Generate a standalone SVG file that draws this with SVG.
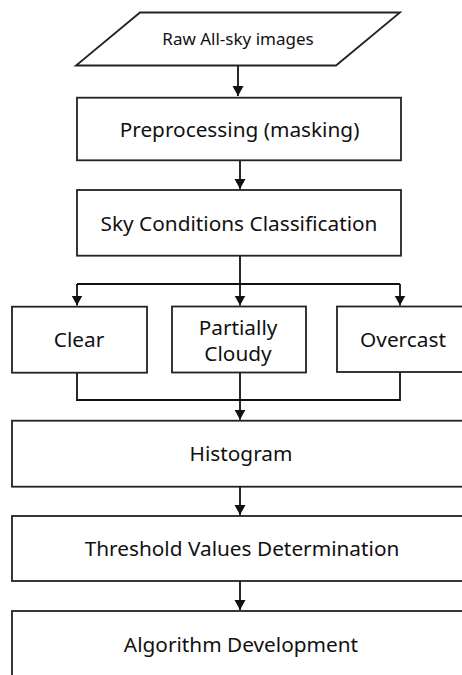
<svg xmlns="http://www.w3.org/2000/svg" width="462" height="675" viewBox="0 0 462 675">
<defs>
<marker id="ah" markerUnits="userSpaceOnUse" markerWidth="12" markerHeight="12" viewBox="0 0 12 12" refX="10" refY="6" orient="auto">
<path d="M0,0.5 L10,6 L0,11.5 Z" fill="#111"/>
</marker>
<style>
.b{fill:#fff;stroke:#222;stroke-width:1.8}
.c{fill:none;stroke:#111;stroke-width:1.8}
.t{font-family:"Noto Sans","Open Sans",sans-serif;font-size:20.8px;fill:#111;text-anchor:middle}
.s{font-size:17px}
</style>
</defs>
<rect width="462" height="675" fill="#fff"/>
<g id="connectors">
<path class="c" d="M238,65.5 V96" marker-end="url(#ah)"/>
<path class="c" d="M240,160.3 V189" marker-end="url(#ah)"/>
<path class="c" d="M240,255.7 V284 M77,284 H400"/>
<path class="c" d="M77,284 V305.5" marker-end="url(#ah)"/>
<path class="c" d="M240,284 V305.5" marker-end="url(#ah)"/>
<path class="c" d="M400,284 V305.5" marker-end="url(#ah)"/>
<path class="c" d="M77,372.7 V400 H400 V372"/>
<path class="c" d="M240,372.5 V419.7" marker-end="url(#ah)"/>
<path class="c" d="M240,486.7 V515" marker-end="url(#ah)"/>
<path class="c" d="M240,581 V610" marker-end="url(#ah)"/>
</g>
<g id="raw">
<polygon class="b" points="140,12.5 400,12.5 336,65.5 76,65.5"/>
<text class="t s" x="238" y="45">Raw All-sky images</text>
</g>
<g id="preprocessing">
<rect class="b" x="77" y="97.7" width="324" height="62.6"/>
<text class="t" x="239.5" y="136.7">Preprocessing (masking)</text>
</g>
<g id="sky">
<rect class="b" x="77" y="190" width="324" height="65.7"/>
<text class="t" x="239" y="230.7">Sky Conditions Classification</text>
</g>
<g id="clear">
<rect class="b" x="12" y="306.7" width="135" height="66"/>
<text class="t" x="79" y="346.7">Clear</text>
</g>
<g id="partially">
<rect class="b" x="172" y="306.5" width="134" height="66"/>
<text class="t" x="238" y="335">Partially</text>
<text class="t" x="238" y="360.7">Cloudy</text>
</g>
<g id="overcast">
<rect class="b" x="337" y="306.5" width="133" height="65.5"/>
<text class="t" x="403" y="346.7">Overcast</text>
</g>
<g id="histogram">
<rect class="b" x="12" y="420.7" width="458" height="66"/>
<text class="t" x="241" y="461">Histogram</text>
</g>
<g id="threshold">
<rect class="b" x="12" y="516" width="458" height="65"/>
<text class="t" x="242" y="556">Threshold Values Determination</text>
</g>
<g id="algorithm">
<rect class="b" x="12" y="611" width="458" height="80"/>
<text class="t" x="241" y="651.7">Algorithm Development</text>
</g>
</svg>
